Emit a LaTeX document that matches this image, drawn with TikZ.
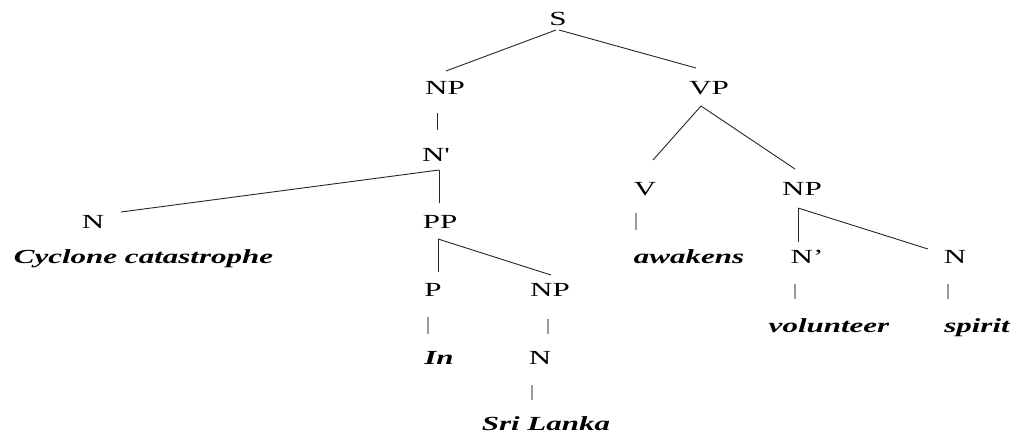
\documentclass[tikz,border=0pt]{standalone}
\usepackage{fontspec}
\setmainfont{Liberation Serif}
\usetikzlibrary{calc}

\tikzset{
  cat/.style={font=\fontsize{20}{24}\selectfont, xscale=1.55, inner sep=0pt, text height=13pt, text depth=0pt},
  word/.style={cat, font=\fontsize{20}{24}\selectfont\bfseries\itshape},
  branch/.style={draw=black!85, line width=0.9pt},
  leaf/.style={draw=black!40, line width=1.3pt}
}

\begin{document}
\begin{tikzpicture}[x=1pt,y=1pt]
    \useasboundingbox (0,0) rectangle (1016,-434);

    % Categories
    \node[cat] (s) at (558,-19) {S};
    \node[cat] (np1) at (445,-88) {NP};
    \node[cat] (vp) at (709,-88) {VP};
    \node[cat] (nbar1) at (436,-155) {N\textquotesingle};
    \node[cat] (n1) at (93,-222) {N};
    \node[cat] (pp) at (440,-222) {PP};
    \node[cat] (v) at (645,-189) {V};
    \node[cat] (np3) at (802,-189) {NP};
    \node[cat] (p) at (433,-290) {P};
    \node[cat] (np2) at (550,-290) {NP};
    \node[cat] (nbar2) at (807,-257) {N’};
    \node[cat] (n3) at (955,-257) {N};
    \node[cat] (n2) at (540,-358) {N};

    % Words
    \node[word] (cyc) at (143.5,-257) {Cyclone catastrophe};
    \node[word] (awk) at (689,-257) {awakens};
    \node[word] (in) at (439,-358) {In};
    \node[word] (sri) at (546,-424) {Sri Lanka};
    \node[word] (vol) at (829,-326) {volunteer};
    \node[word] (spi) at (977,-326) {spirit};

    % Branches
    \draw[branch] ($(s)+(-2,-11)$) -- ($(np1)+(1,17)$);
    \draw[branch] ($(s)+(1,-11)$) -- ($(vp)+(-13,20)$);
    \draw[branch] ($(np1)+(-8,-25)$) -- ($(nbar1)+(1,25)$);
    \draw[branch] ($(nbar1)+(3,-15)$) -- ($(n1)+(28,10)$);
    \draw[branch] ($(nbar1)+(3,-15)$) -- ($(pp)+(-1,19)$);
    \draw[branch] ($(vp)+(-8,-18)$) -- ($(v)+(8,29)$);
    \draw[branch] ($(vp)+(-8,-18)$) -- ($(np3)+(-7,20)$);
    \draw[branch] ($(pp)+(-2,-17)$) -- ($(p)+(5,18)$);
    \draw[branch] ($(pp)+(-2,-17)$) -- ($(np2)+(1,15)$);
    \draw[branch] ($(np3)+(-4,-19)$) -- ($(nbar2)+(-9,15)$);
    \draw[branch] ($(np3)+(-4,-19)$) -- ($(n3)+(-27,8)$);

    % Leaves
    \draw[leaf] ($(v)+(-9,-24)$) -- ($(awk)+(-53,27)$);
    \draw[leaf] ($(p)+(-5,-27)$) -- ($(in)+(-11,24)$);
    \draw[leaf] ($(np2)+(-2,-29)$) -- ($(n2)+(8,24)$);
    \draw[leaf] ($(n2)+(-8,-27)$) -- ($(sri)+(-14,24)$);
    \draw[leaf] ($(nbar2)+(-12,-27)$) -- ($(vol)+(-34,27)$);
    \draw[leaf] ($(n3)+(-7,-27)$) -- ($(spi)+(-29,27)$);
\end{tikzpicture}
\end{document}
